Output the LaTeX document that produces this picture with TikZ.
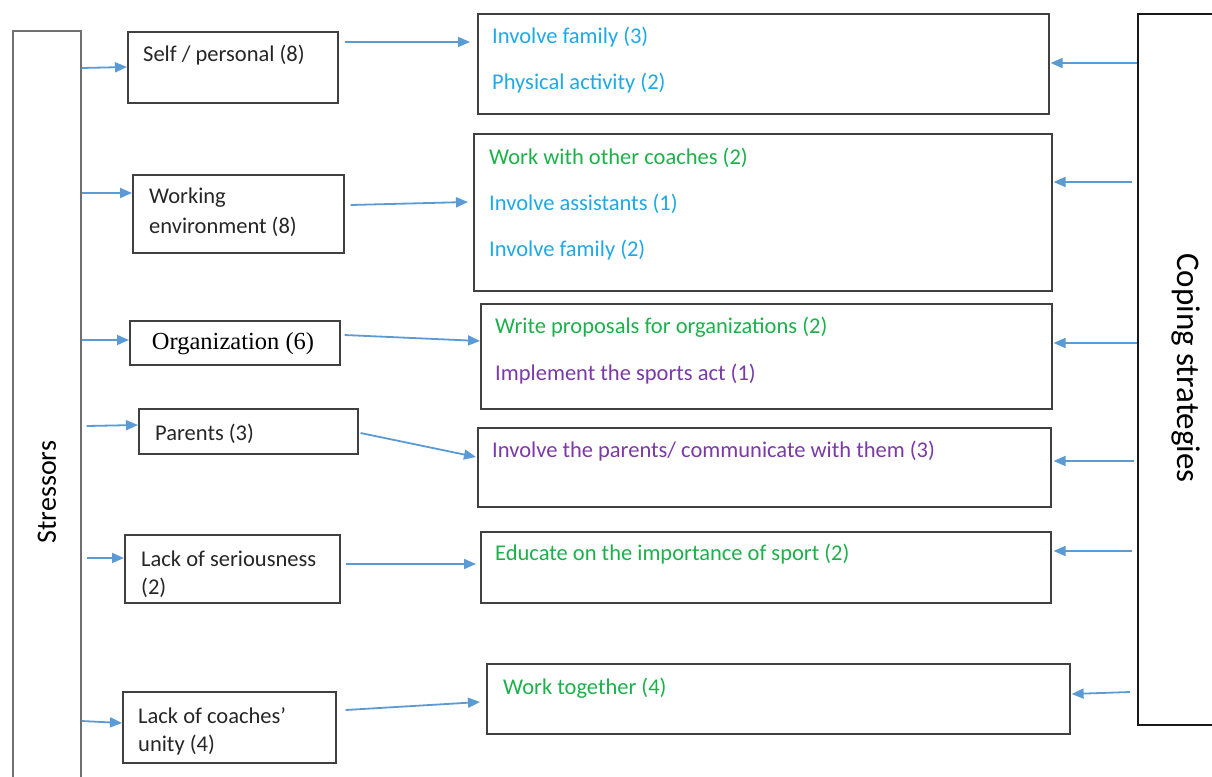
\documentclass[tikz,border=0pt]{standalone}
\usepackage{fontspec}
\setmainfont{Carlito}
\newfontfamily\orgfont{Liberation Serif}
\usetikzlibrary{arrows.meta,calc}
\definecolor{arrowblue}{HTML}{5B9BD5}
\definecolor{txtblue}{HTML}{1FA9E6}
\definecolor{txtgreen}{HTML}{1DB14B}
\definecolor{txtpurple}{HTML}{7B3AA8}
\definecolor{edgegray}{HTML}{404040}
\definecolor{sidegray}{HTML}{707070}

\begin{document}
\begin{tikzpicture}[x=1pt,y=-1pt,
  box/.style={draw=edgegray, line width=1.6pt, rectangle, inner sep=0pt, anchor=north west},
  sidebox/.style={draw=sidegray, line width=1.6pt, rectangle, inner sep=0pt, anchor=north west},
  lbl/.style={anchor=west, inner sep=0pt, yshift=-1.5pt, font=\fontsize{22.5}{28}\selectfont, text=black!85},
  strat/.style={lbl},
  arr/.style={draw=arrowblue, line width=1.8pt, -{Triangle[length=12pt,width=10pt]}},
]
\useasboundingbox (0,0) rectangle (1212,776);
\clip (0,0) rectangle (1212,776);
\fill[white] (0,0) rectangle (1212,776);

% side panels
\node[sidebox, minimum width=68pt, minimum height=800pt] (st) at (12,30) {};
\node[rotate=90, inner sep=0pt, font=\fontsize{28}{32}\selectfont] (stlbl) at (47,492) {Stressors};
\node[box, draw=black!90, minimum width=120pt, minimum height=711pt] (cp) at (1137,13) {};
\node[rotate=-90, inner sep=0pt, font=\fontsize{33}{38}\selectfont] (cplbl) at (1186,368) {Coping strategies};

% stressor boxes
\node[box, minimum width=210pt, minimum height=71pt] (s1) at (127,31) {};
\node[lbl] (s1a) at (143,54) {Self / personal (8)};
\node[box, minimum width=211pt, minimum height=78pt] (s2) at (132,174) {};
\node[lbl] (s2a) at (149,196) {Working};
\node[lbl] (s2b) at (149,225) {environment (8)};
\node[box, minimum width=210pt, minimum height=44pt] (s3) at (129,320) {};
\node[inner sep=0pt, yshift=-1.5pt, font=\orgfont\fontsize{24.5}{28}\selectfont] (s3a) at (233,342) {Organization (6)};
\node[box, minimum width=219pt, minimum height=45pt] (s4) at (138,408) {};
\node[lbl] (s4a) at (155,432) {Parents (3)};
\node[box, minimum width=215pt, minimum height=68pt] (s5) at (124,534) {};
\node[lbl] (s5a) at (141,557) {Lack of seriousness};
\node[lbl] (s5b) at (141,586) {(2)};
\node[box, minimum width=213pt, minimum height=71pt] (s6) at (122,691) {};
\node[lbl] (s6a) at (138,714) {Lack of coaches’};
\node[lbl] (s6b) at (138,744) {unity (4)};

% strategy boxes
\node[box, minimum width=571pt, minimum height=100pt] (r1) at (477,13) {};
\node[strat, text=txtblue] (r1a) at (492,36) {Involve family (3)};
\node[strat, text=txtblue] (r1b) at (492,82) {Physical activity (2)};
\node[box, minimum width=578pt, minimum height=157pt] (r2) at (473,133) {};
\node[strat, text=txtgreen] (r2a) at (489,156) {Work with other coaches (2)};
\node[strat, text=txtblue] (r2b) at (489,202) {Involve assistants (1)};
\node[strat, text=txtblue] (r2c) at (489,249) {Involve family (2)};
\node[box, minimum width=571pt, minimum height=105pt] (r3) at (480,303) {};
\node[strat, text=txtgreen] (r3a) at (495,326) {Write proposals for organizations (2)};
\node[strat, text=txtpurple] (r3b) at (495,373) {Implement the sports act (1)};
\node[box, minimum width=573pt, minimum height=79pt] (r4) at (477,427) {};
\node[strat, text=txtpurple] (r4a) at (492,450) {Involve the parents/ communicate with them (3)};
\node[box, minimum width=570pt, minimum height=71pt] (r5) at (480,531) {};
\node[strat, text=txtgreen] (r5a) at (495,553) {Educate on the importance of sport (2)};
\node[box, minimum width=583pt, minimum height=70pt] (r6) at (486,663) {};
\node[strat, text=txtgreen] (r6a) at (503,687) {Work together (4)};

% arrows from the stressors panel
\coordinate (t1) at ($(st.north east)+(0,38)$);
\coordinate (t2) at ($(st.north east)+(0,163)$);
\coordinate (t3) at ($(st.north east)+(0,310)$);
\coordinate (t4) at ($(st.north east)+(5,396)$);
\coordinate (t5) at ($(st.north east)+(5,528)$);
\coordinate (t6) at ($(st.north east)+(0,691)$);
\draw[arr] (t1) -- ($(s1.north west)+(0,36)$);
\draw[arr] (t2) -- ($(s2.north west)+(0,19)$);
\draw[arr] (t3) -- ($(s3.north west)+(0,20)$);
\draw[arr] (t4) -- ($(s4.north west)+(0,17)$);
\draw[arr] (t5) -- ($(s5.north west)+(0,24)$);
\draw[arr] (t6) -- ($(s6.north west)+(0,32)$);

% arrows from stressors to strategies
\draw[arr] ($(s1.north east)+(6,11)$) -- ($(r1.north west)+(-7,29)$);
\draw[arr] ($(s2.north east)+(6,31)$) -- ($(r2.north west)+(-5,69)$);
\draw[arr] ($(s3.north east)+(4,15)$) -- ($(r3.north west)+(0,38)$);
\draw[arr] ($(s4.north east)+(2,25)$) -- ($(r4.north west)+(-1,30)$);
\draw[arr] ($(s5.north east)+(5,30)$) -- ($(r5.north west)+(-4,33)$);
\draw[arr] ($(s6.north east)+(9,19)$) -- ($(r6.north west)+(-6,39)$);

% arrows from the coping strategies panel
\draw[arr] ($(cp.north west)+(0,50)$) -- ($(r1.north east)+(1,50)$);
\draw[arr] ($(cp.north west)+(-5,169)$) -- ($(r2.north east)+(1,49)$);
\draw[arr] ($(cp.north west)+(0,330)$) -- ($(r3.north east)+(1,40)$);
\draw[arr] ($(cp.north west)+(-3,448)$) -- ($(r4.north east)+(2,34)$);
\draw[arr] ($(cp.north west)+(-5,538)$) -- ($(r5.north east)+(2,20)$);
\draw[arr] ($(cp.north west)+(-7,679)$) -- ($(r6.north east)+(1,31)$);
\end{tikzpicture}
\end{document}
